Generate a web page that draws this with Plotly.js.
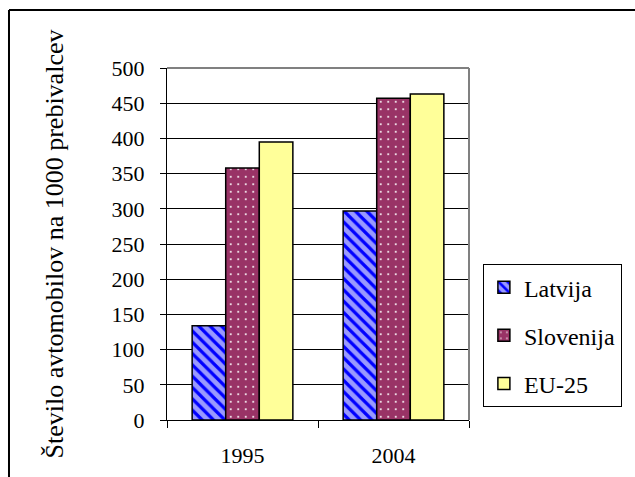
<!DOCTYPE html>
<html>
<head>
<meta charset="utf-8">
<script src="https://cdn.plot.ly/plotly-3.0.1.min.js"></script>
<style>
html,body{margin:0;padding:0;background:#fff;}
#chart{width:635px;height:477px;}
</style>
</head>
<body>
<div id="chart"></div>
<script>
const categories = ['1995', '2004'];
const latvija = [134, 297];
const slovenija = [358, 457];
const eu25 = [395, 463];
const seriesNames = ['Latvija', 'Slovenija', 'EU-25'];
const yTicks = [0, 50, 100, 150, 200, 250, 300, 350, 400, 450, 500];
const yTitle = 'Število avtomobilov na 1000 prebivalcev';

const serif = 'Liberation Serif';

const traces = [
  {
    type: 'bar', name: seriesNames[0], x: categories, y: latvija, legendgroup: 'a',
    marker: {
      color: '#9999FF',
      line: {color: '#000', width: 1.5},
      pattern: {shape: '\\', bgcolor: '#9999FF', fgcolor: '#0000FF', size: 8, solidity: 0.4, fillmode: 'replace'}
    }
  },
  {
    type: 'bar', name: seriesNames[1], x: categories, y: slovenija, legendgroup: 'b',
    marker: {
      color: '#993366',
      line: {color: '#000', width: 1.5},
      pattern: {shape: '.', bgcolor: '#993366', fgcolor: '#FFFFFF', size: 7.5, solidity: 0.06, fillmode: 'replace'}
    }
  },
  {
    type: 'bar', name: seriesNames[2], x: categories, y: eu25, legendgroup: 'c',
    marker: {color: '#FFFF99', line: {color: '#000', width: 1.5}}
  }
];

const layout = {
  width: 635, height: 477,
  margin: {l: 167, r: 166, t: 68, b: 57, pad: 0},
  paper_bgcolor: '#fff', plot_bgcolor: '#fff',
  font: {family: serif, color: '#000', size: 22},
  barmode: 'group', bargap: 0.333, bargroupgap: 0,
  showlegend: true,
  legend: {
    x: 1.046, y: 0.443, xanchor: 'left', yanchor: 'top',
    bordercolor: '#000', borderwidth: 1, bgcolor: '#fff',
    font: {family: serif, size: 24, color: '#000'},
    traceorder: 'grouped', tracegroupgap: 14
  },
  xaxis: {
    type: 'category', tickson: 'boundaries', ticks: 'outside', ticklen: 7, tickcolor: '#000', tickwidth: 1,
    showline: true, linecolor: '#000', linewidth: 1, showgrid: false, zeroline: false,
    tickfont: {family: serif, size: 22, color: '#000'}, ticklabelstandoff: 16
  },
  yaxis: {
    range: [0, 500], tickvals: yTicks, ticktext: yTicks.map(String),
    ticks: 'outside', ticklen: 6, tickcolor: '#000', tickwidth: 1,
    showline: true, linecolor: '#000', linewidth: 1,
    showgrid: true, gridcolor: '#000', gridwidth: 1, zeroline: false,
    tickfont: {family: serif, size: 22, color: '#000'}, ticklabelstandoff: 11,
    title: {text: yTitle, font: {family: serif, size: 26, color: '#000'}, standoff: 40}
  },
  shapes: [
    {type: 'line', xref: 'paper', yref: 'paper', x0: 0, x1: 1, y0: 1, y1: 1, line: {color: '#808080', width: 2}},
    {type: 'line', xref: 'paper', yref: 'paper', x0: 1, x1: 1, y0: 0, y1: 1, line: {color: '#808080', width: 2}},
    {type: 'line', xref: 'paper', yref: 'paper', x0: -0.5232, x1: 1.6, y0: 1.1648, y1: 1.1648, line: {color: '#000', width: 2}},
    {type: 'line', xref: 'paper', yref: 'paper', x0: -0.5232, x1: -0.5232, y0: 1.1648, y1: -0.2, line: {color: '#000', width: 2}}
  ]
};

Plotly.newPlot('chart', traces, layout, {displayModeBar: false, staticPlot: true});
</script>
</body>
</html>
